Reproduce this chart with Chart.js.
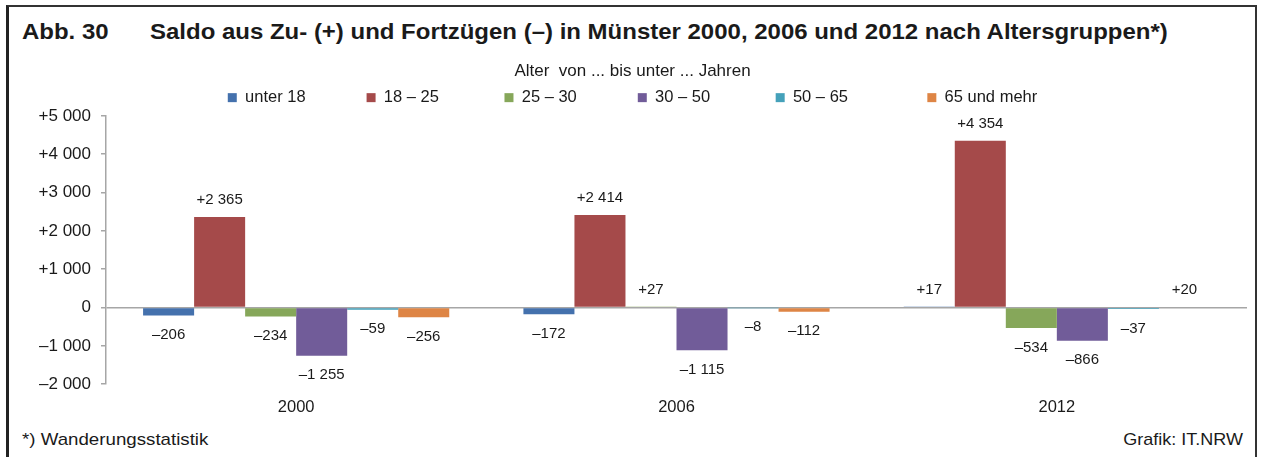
<!DOCTYPE html>
<html lang="de">
<head>
<meta charset="utf-8">
<title>Abb. 30 – Saldo aus Zu- und Fortzügen</title>
<script src="https://cdn.jsdelivr.net/npm/chart.js@4.4.1/dist/chart.umd.min.js"></script>
<style>
  html, body { margin: 0; padding: 0; background: #fff; }
  body { width: 1261px; height: 457px; position: relative; overflow: hidden;
         font-family: "Liberation Sans", Arial, sans-serif; color: #1a1a1a; }
  #frame { position: absolute; left: 6px; top: 5px; width: 1246px; height: 470px;
           border-left: 3px solid #222; border-top: 2px solid #333; border-right: 2px solid #333; }
  .title { position: absolute; top: 21px; font-weight: bold; font-size: 22px; line-height: 22px;
           white-space: nowrap; transform: scaleX(1.09); transform-origin: left center; }
  #abb { left: 22px; }
  #headline { left: 150px; }
  .foot { position: absolute; top: 431px; font-size: 17px; line-height: 17px; white-space: nowrap; }
  #src { left: 22px; transform: scaleX(1.1); transform-origin: left center; }
  #credit { right: 18px; transform: scaleX(1.06); transform-origin: right center; }
  #chartBox { position: absolute; left: 8px; top: 60px; width: 1247px; height: 362px; z-index: 1; }
  .foot, .title { z-index: 2; }
</style>
</head>
<body>
<div id="frame"></div>
<div class="title" id="abb">Abb. 30</div>
<div class="title" id="headline">Saldo aus Zu- (+) und Fortzügen (–) in Münster 2000, 2006 und 2012 nach Altersgruppen*)</div>
<div id="chartBox"><canvas id="saldoChart"></canvas></div>
<div class="foot" id="src">*) Wanderungsstatistik</div>
<div class="foot" id="credit">Grafik: IT.NRW</div>

<script>
// Jahre und Altersgruppen
const years = ['2000', '2006', '2012'];
const ageGroups = ['unter 18', '18 – 25', '25 – 30', '30 – 50', '50 – 65', '65 und mehr'];

// Saldo je Altersgruppe (2000, 2006, 2012)
const under18 = [-206, -172, 17];
const age18to25 = [2365, 2414, 4354];
const age25to30 = [-234, 27, -534];
const age30to50 = [-1255, -1115, -866];
const age50to65 = [-59, -8, -37];
const age65plus = [-256, -112, 20];

// y-Achse
const yMin = -2000;
const yMax = 5000;
const yStep = 1000;

const groupColors = ['#4471AD', '#A54A4A', '#86A75A', '#715C99', '#45A1BA', '#DE8545'];
const seriesValues = [under18, age18to25, age25to30, age30to50, age50to65, age65plus];

// extra spaces after each legend entry, to spread them like the original
const legendGaps = [12, 13, 12, 13, 16, 0];

// +2 365 / –1 255 style
function formatSaldo(v) {
    const sign = v > 0 ? '+' : (v < 0 ? '\u2013' : '');
    const digits = String(Math.abs(v)).replace(/\B(?=(\d{3})+(?!\d))/g, ' ');
    return sign + digits;
}

// value labels above / below each bar
const barLabels = {
    id: 'barLabels',
    afterDatasetsDraw(chart) {
        const ctx = chart.ctx;
        ctx.save();
        ctx.font = '15px "Liberation Sans", Arial, sans-serif';
        ctx.fillStyle = '#1a1a1a';
        ctx.textAlign = 'center';
        ctx.textBaseline = 'middle';
        chart.data.datasets.forEach((ds, i) => {
            const meta = chart.getDatasetMeta(i);
            meta.data.forEach((bar, j) => {
                const v = ds.data[j];
                const y = v >= 0 ? bar.y - 17 : bar.y + 19.5;
                ctx.fillText(formatSaldo(v), bar.x, y);
            });
        });
        ctx.restore();
    }
};

const ctx = document.getElementById('saldoChart').getContext('2d');
new Chart(ctx, {
    type: 'bar',
    data: {
        labels: years,
        datasets: ageGroups.map((name, i) => ({
            label: name,
            data: seriesValues[i],
            backgroundColor: groupColors[i],
            borderWidth: 0,
            categoryPercentage: 0.805,
            barPercentage: 1.0
        }))
    },
    options: {
        responsive: true,
        maintainAspectRatio: false,
        animation: false,
        layout: { padding: { left: 10, right: 8, top: 0, bottom: 0 } },
        plugins: {
            tooltip: { enabled: false },
            legend: {
                position: 'top',
                align: 'center',
                title: {
                    display: true,
                    text: 'Alter  von ... bis unter ... Jahren',
                    color: '#1a1a1a',
                    font: { family: '"Liberation Sans", Arial, sans-serif', size: 17 },
                    padding: { top: 3, bottom: 0 }
                },
                labels: {
                    color: '#1a1a1a',
                    font: { family: '"Liberation Sans", Arial, sans-serif', size: 16.5 },
                    boxWidth: 9,
                    boxHeight: 9,
                    padding: 6,
                    generateLabels(chart) {
                        const items = Chart.defaults.plugins.legend.labels.generateLabels(chart);
                        items.forEach((it, k) => {
                            it.text = it.text + ' '.repeat(legendGaps[k]);
                        });
                        return items;
                    }
                }
            }
        },
        scales: {
            x: {
                grid: { display: false },
                border: { display: false },
                ticks: {
                    color: '#1a1a1a',
                    padding: 5,
                    font: { family: '"Liberation Sans", Arial, sans-serif', size: 16.5 }
                }
            },
            y: {
                min: yMin,
                max: yMax,
                ticks: {
                    stepSize: yStep,
                    color: '#1a1a1a',
                    padding: 10,
                    font: { family: '"Liberation Sans", Arial, sans-serif', size: 17 },
                    callback: (v) => formatSaldo(v)
                },
                grid: {
                    drawTicks: true,
                    tickLength: 5,
                    tickColor: '#a6a6a6',
                    color: (c) => (c.tick && c.tick.value === 0 ? '#a6a6a6' : 'rgba(0,0,0,0)'),
                    lineWidth: 1.5
                },
                border: { display: true, color: '#a6a6a6', width: 1.5 },
                afterFit(scale) {
                    scale.width = 88;
                }
            }
        }
    },
    plugins: [barLabels]
});
</script>
</body>
</html>
